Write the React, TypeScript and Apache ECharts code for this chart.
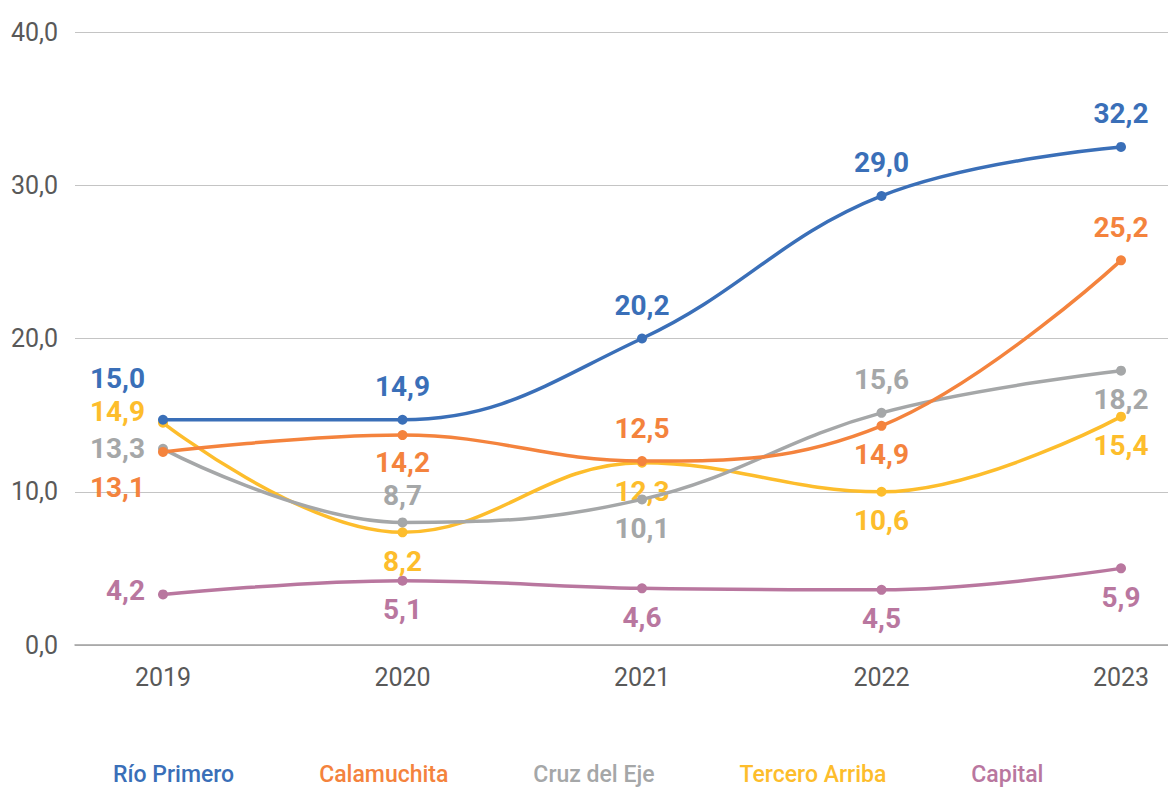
import React, { useEffect, useRef } from "react";
import * as echarts from "echarts";

const years = ["2019", "2020", "2021", "2022", "2023"];
const seriesNames = ["Río Primero", "Calamuchita", "Cruz del Eje", "Tercero Arriba", "Capital"];

// plotted values (as drawn)
const rioPrimero = [14.7, 14.7, 20.0, 29.3, 32.5];
const calamuchita = [12.6, 13.7, 12.0, 14.3, 25.1];
const cruzDelEje = [12.8, 8.0, 9.5, 15.15, 17.9];
const terceroArriba = [14.5, 7.35, 11.9, 10.0, 14.9];
const capital = [3.3, 4.2, 3.7, 3.6, 5.0];

// printed data labels
const rioPrimeroLabels = ["15,0", "14,9", "20,2", "29,0", "32,2"];
const calamuchitaLabels = ["13,1", "14,2", "12,5", "14,9", "25,2"];
const cruzDelEjeLabels = ["13,3", "8,7", "10,1", "15,6", "18,2"];
const terceroArribaLabels = ["14,9", "8,2", "12,3", "10,6", "15,4"];
const capitalLabels = ["4,2", "5,1", "4,6", "4,5", "5,9"];

const yTicks = [0, 10, 20, 30, 40];

const colors = ["#3A6FB8", "#F4833D", "#A5A7A8", "#FDBD2C", "#B9779F"];

// label placement per point: [position, dy]
const placements: [string, number][][] = [
  [["left", -41], ["top", 0], ["top", 0], ["top", 0], ["top", 0]],
  [["left", 36], ["bottom", -2], ["top", 0], ["bottom", 0], ["top", 0]],
  [["left", 0], ["top", 6], ["bottom", 0], ["top", 0], ["bottom", 0]],
  [["left", -11], ["bottom", 0], ["bottom", 0], ["bottom", 0], ["bottom", 0]],
  [["left", -4], ["bottom", 0], ["bottom", 0], ["bottom", 0], ["bottom", 0]],
];

const FONT = "Roboto";

export default function App() {
  const ref = useRef<HTMLDivElement>(null);
  useEffect(() => {
    if (!ref.current) return;
    const chart = echarts.init(ref.current, null, { renderer: "svg" });
    const values = [rioPrimero, calamuchita, cruzDelEje, terceroArriba, capital];
    const labels = [rioPrimeroLabels, calamuchitaLabels, cruzDelEjeLabels, terceroArribaLabels, capitalLabels];

    const top = 32;
    const bottom = 152;

    const series: any[] = values.map((vals, si) => ({
      name: seriesNames[si],
      type: "line",
      xAxisIndex: 1,
      yAxisIndex: 1,
      smooth: 0.4,
      symbol: "circle",
      symbolSize: 10,
      lineStyle: { width: 3.5, color: colors[si] },
      itemStyle: { color: colors[si] },
      z: 10 - si,
      data: vals.map((v, i) => {
        const [pos, dy] = placements[si][i];
        return {
          value: v,
          label: {
            position: pos,
            offset: [0, dy],
            distance: pos === "left" ? 13 : pos === "top" ? 14 : 10,
          },
        };
      }),
      label: {
        show: true,
        color: colors[si],
        fontFamily: FONT,
        fontWeight: "bold",
        fontSize: 28,
        formatter: (p: any) => labels[si][p.dataIndex],
      },
    }));

    chart.setOption({
      animation: false,
      backgroundColor: "#ffffff",
      textStyle: { fontFamily: FONT },
      grid: [
        { left: 75, right: 0, top, bottom },
        { left: 163, right: 47, top, bottom },
      ],
      xAxis: [
        {
          gridIndex: 0,
          type: "value",
          min: 0,
          max: 1,
          axisLine: { show: true, lineStyle: { color: "#A0A0A0", width: 1.5 } },
          axisTick: { show: false },
          axisLabel: { show: false },
          splitLine: { show: false },
        },
        {
          gridIndex: 1,
          type: "category",
          data: years,
          boundaryGap: false,
          axisLine: { show: false },
          axisTick: { show: false },
          splitLine: { show: false },
          axisLabel: {
            color: "#595959",
            fontFamily: FONT,
            fontSize: 25,
            margin: 20,
          },
        },
      ],
      yAxis: [
        {
          gridIndex: 0,
          type: "value",
          min: 0,
          max: 40,
          interval: 10,
          axisLine: { show: false },
          axisTick: { show: false },
          splitLine: { lineStyle: { color: "#C4C4C4", width: 1.2 } },
          axisLabel: {
            color: "#595959",
            fontFamily: FONT,
            fontSize: 25,
            margin: 17,
            formatter: (v: number) => (yTicks.includes(v) ? v.toFixed(1).replace(".", ",") : ""),
          },
        },
        {
          gridIndex: 1,
          type: "value",
          min: 0,
          max: 40,
          interval: 10,
          show: false,
          splitLine: { show: false },
        },
      ],
      legend: {
        bottom: 6,
        left: 103,
        itemWidth: 0,
        itemHeight: 0,
        itemGap: 80,
        icon: "none",
        selectedMode: false,
        data: seriesNames.map((n, i) => ({
          name: n,
          icon: "none",
          textStyle: { color: colors[i], fontFamily: FONT, fontSize: 23, fontWeight: 500 },
        })),
      },
      series,
    });
    return () => chart.dispose();
  }, []);

  return <div ref={ref} style={{ width: 1168, height: 797, position: "absolute", left: 0, top: 0 }} />;
}
